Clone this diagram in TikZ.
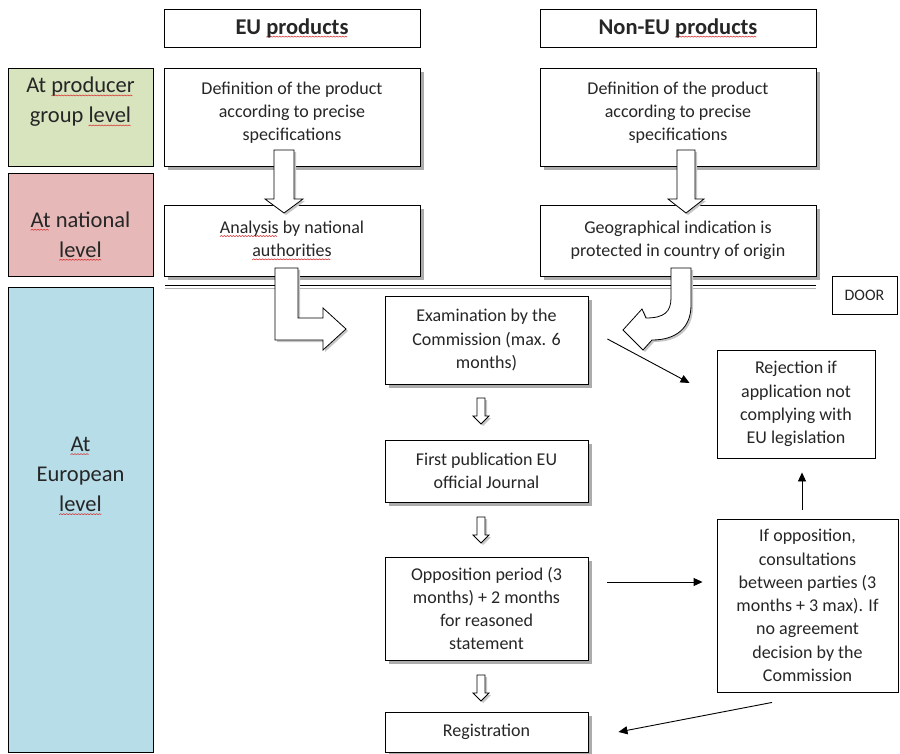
\documentclass[tikz,border=0pt]{standalone}
\usepackage{fontspec}
\setmainfont{Carlito}
\usetikzlibrary{arrows.meta,shadows,calc}
\definecolor{lvgreen}{HTML}{D7E4BD}
\definecolor{lvred}{HTML}{E6B9B8}
\definecolor{lvblue}{HTML}{B7DDE8}
\definecolor{wavered}{HTML}{D83030}
\definecolor{txt}{HTML}{262626}
\newsavebox\wavebox
\sbox\wavebox{\tikz[x=1pt,y=1pt]{\useasboundingbox (0,0) rectangle (3,1.2);
  \draw[wavered,line width=0.55pt] (0,0.1) -- (1.5,1.2) -- (3,0.1);}}
\newsavebox\wordbox
\newcommand\spell[1]{\sbox\wordbox{#1}\rlap{\lower3.2pt\hbox to \wd\wordbox{\leaders\copy\wavebox\hfill}}\usebox\wordbox}
\begin{document}
\begin{tikzpicture}[x=1pt,y=-1pt,
  box/.style={draw, line width=0.9pt, fill=white, inner sep=0pt, align=center, text=txt,
    font=\fontsize{18}{23.3}\selectfont},
  shad/.style={drop shadow={shadow xshift=4pt,shadow yshift=-4pt,fill=gray!65,opacity=1}},
  hdr/.style={box, font=\fontsize{22.5}{27}\selectfont\bfseries},
  levelbox/.style={draw, line width=0.9pt, inner sep=0pt},
  lvtext/.style={align=center, text=txt, font=\fontsize{22.5}{30}\selectfont, inner sep=0pt},
  conn/.style={line width=0.9pt, -{Triangle[length=9pt,width=8pt]}},
  hollow/.style={draw, line width=0.8pt, fill=white,
    drop shadow={shadow xshift=2pt,shadow yshift=-2pt,fill=gray!45,opacity=1}},
  downarrow/.pic={\path[hollow] (-4,0) -- (-4,18) -- (-8,18) -- (0,26) -- (8,18) -- (4,18) -- (4,0) -- cycle;}
]
\useasboundingbox (0,0) rectangle (900,754);

% level boxes
\node[levelbox, fill=lvgreen, minimum width=145pt, minimum height=98pt] (lv1) at (80.5,117) {};
\node[levelbox, fill=lvred, minimum width=145pt, minimum height=103pt] (lv2) at (80.5,224.5) {};
\node[levelbox, fill=lvblue, minimum width=145pt, minimum height=465pt] (lv3) at (80.5,519.5) {};
\node[lvtext] (lv1t) at (80.5,102) {At \spell{producer}\\group \spell{level}};
\node[lvtext] (lv2t) at (80.5,236) {\spell{At} national\\\spell{level}};
\node[lvtext] (lv3t) at (80.5,476) {\spell{At}\\European\\\spell{level}};

% headers
\node[hdr, minimum width=256pt, minimum height=38pt] (euh) at (292,28) {EU \spell{products}};
\node[hdr, minimum width=276pt, minimum height=38pt] (neuh) at (678,28) {Non-EU \spell{products}};

% boxes
\node[box, shad, minimum width=256pt, minimum height=98pt] (def1) at (292,117)
  {Definition of the product\\according to precise\\specifications\\[-12pt]\mbox{}};
\node[box, shad, minimum width=276pt, minimum height=98pt] (def2) at (678,117)
  {Definition of the product\\according to precise\\specifications\\[-12pt]\mbox{}};
\node[box, shad, minimum width=256pt, minimum height=71pt] (ana) at (292,240.5)
  {\spell{Analysis} by national\\\spell{authorities}};
\node[box, shad, minimum width=276pt, minimum height=71pt] (geo) at (678,240.5)
  {Geographical indication is\\protected in country of origin};

% divider line
\draw[gray!60, line width=0.9pt] (165,288.5) -- (816,288.5);
\draw[line width=0.9pt] (165,285.5) -- (816,285.5);

\node[box, shad, minimum width=203pt, minimum height=88pt] (exam) at (486.5,340)
  {Examination by the\\Commission (max. 6\\months)};
\node[box, shad, minimum width=203pt, minimum height=62pt] (pub) at (486.5,471)
  {First publication EU\\official Journal};
\node[box, shad, minimum width=203pt, minimum height=103pt] (opp) at (486.5,608.5)
  {Opposition period (3\\months) + 2 months\\for reasoned\\statement};
\node[box, shad, minimum width=203pt, minimum height=40pt] (reg) at (486.5,732)
  {Registration};
\node[box, minimum width=65pt, minimum height=38pt, font=\fontsize{16}{19}\selectfont] (door) at (864.5,295)
  {DOOR};
\node[box, minimum width=158pt, minimum height=108pt] (rej) at (796,404)
  {Rejection if\\application not\\complying with\\EU legislation};
\node[box, minimum width=181pt, minimum height=173pt] (cons) at (807.5,605.5)
  {If opposition,\\consultations\\between parties (3\\months + 3 max). If\\no agreement\\decision by the\\Commission};

% big hollow arrows
\path[hollow] (274,150) -- (274,199) -- (265,199) -- (284,213) -- (303,199) -- (294,199) -- (294,150) -- cycle;
\path[hollow] (677,150) -- (677,199) -- (668,199) -- (686,213) -- (704,199) -- (695,199) -- (695,150) -- cycle;
\path[hollow] (275,268) -- (275,340) -- (323,340) -- (323,350) -- (346,329) -- (323,308) -- (323,318)
  -- (298,318) -- (298,268) -- cycle;
\path[hollow] (691,268) -- (691,305) .. controls (691,328) and (676,340) .. (652,340) -- (643,350)
  -- (623,330) -- (642,309) -- (646,318) .. controls (664,318) and (671,312) .. (671,298) -- (671,268) -- cycle;

% small hollow arrows
\pic at (481,398) {downarrow};
\pic at (481,517) {downarrow};
\pic at (481,675) {downarrow};

% connectors
\draw[conn] ($(exam.east)+(19,-1)$) -- ($(rej.west)+(-27,-21)$);
\draw[conn] ($(opp.east)+(19,-26.5)$) -- ($(cons.west)+(-14,-23.5)$);
\draw[conn] ($(cons.north)+(-5.5,-9)$) -- ($(rej.south)+(6,14)$);
\draw[conn] ($(cons.south)+(-35.5,10)$) -- ($(reg.east)+(30,0)$);
\end{tikzpicture}
\end{document}
